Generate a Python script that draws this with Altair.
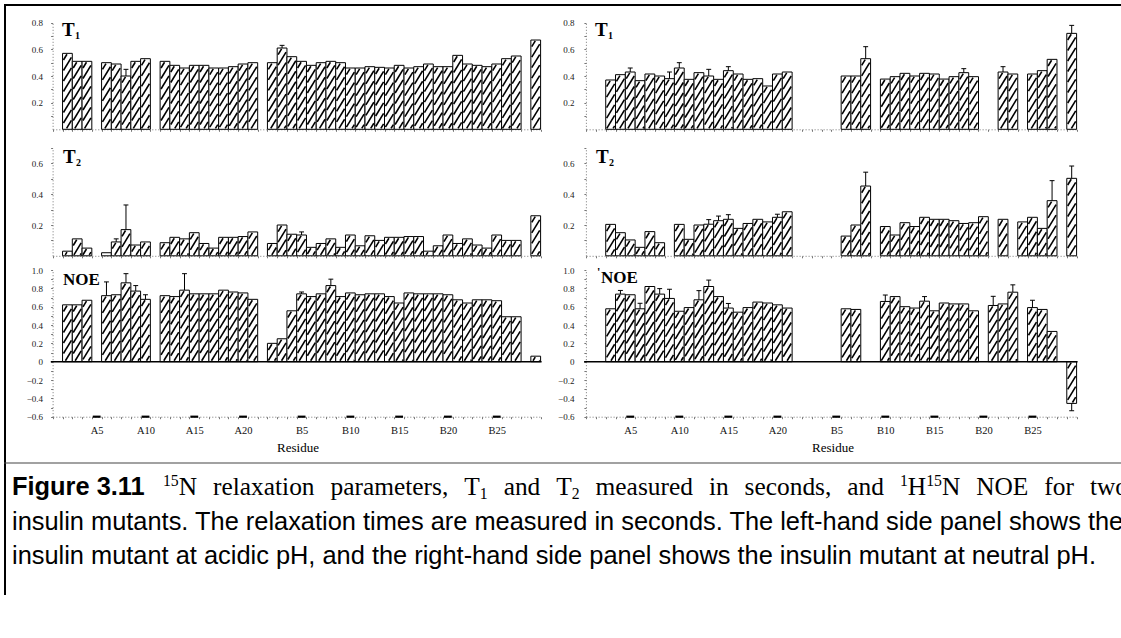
import altair as alt
import pandas as pd

W, H = 1121, 638
SERIF = "Liberation Serif"
SANS = "Liberation Sans"

# Residue axis: insulin A chain (A1-A21) followed by B chain (B1-B29)
residues = [f"A{i}" for i in range(1, 22)] + [f"B{i}" for i in range(1, 30)]
labelled = ["A5", "A10", "A15", "A20", "B5", "B10", "B15", "B20", "B25"]

N = None
# ---- acidic pH mutant -------------------------------------------------------
acid_t1 = [N, .57, .51, .51, N, .50, .49, .40, .51, .53, N, .51, .48, .46, .48, .48, .46, .46, .47, .49, .50,
           N, .50, .61, .545, .51, .48, .50, .51, .50, .46, .46, .47, .465, .46, .48, .46, .47, .49, .47, .47,
           .555, .49, .48, .47, .49, .53, .55, N, .67]
acid_t2 = [N, .03, .11, .05, N, .02, .09, .17, .07, .09, N, .085, .12, .11, .15, .08, .05, .12, .12, .125, .155,
           N, .08, .20, .14, .135, .055, .08, .11, .055, .135, .065, .13, .10, .12, .12, .125, .125, .03, .065, .135,
           .08, .11, .07, .05, .135, .10, .10, N, .26]
acid_noe = [N, .62, .62, .67, N, .72, .73, .86, .77, .68, N, .72, .71, .78, .74, .74, .74, .78, .76, .75, .68,
            N, .20, .25, .555, .74, .71, .74, .83, .71, .75, .73, .74, .74, .71, .64, .75, .74, .74, .74, .73,
            .675, .64, .675, .675, .665, .49, .49, N, .06]
acid_t1_err = {"A8": .05, "B3": .02}
acid_t2_err = {"A8": .16, "A7": .02, "B5": .02}
acid_noe_err = {"A6": .15, "A8": .10, "A9": .06, "A10": .05, "A14": .18, "B8": .07, "B5": .02}

# ---- neutral pH mutant ------------------------------------------------------
neutral_t1 = [N, N, .37, .41, .43, .365, .415, .40, .38, .46, .375, .425, .40, .375, .44, .415, .375, .38, .325,
              .415, .43,
              N, N, N, N, N, .40, .40, .53, N, .377, .395, .42, .40, .42, .415, .377, .395, .425, .395, N, N,
              .43, .415, N, .415, .44, .525, N, .72]
neutral_t2 = [N, N, .204, .15, .103, .055, .157, .085, N, .204, .107, .20, .205, .228, .237, .178, .21, .237, .22,
              .25, .286,
              N, N, N, N, N, .128, .20, .453, N, .19, .135, .215, .19, .25, .237, .237, .228, .21, .215, .254, N,
              .237, N, .22, .25, .178, .358, N, .503]
neutral_noe = [N, N, .577, .737, .73, .577, .82, .737, .69, .55, .59, .675, .82, .71, .585, .54, .59, .65, .64,
               .62, .585,
               N, N, N, N, N, .577, .57, N, N, .657, .71, .60, .585, .66, .555, .64, .63, .63, .555, N, .613, .63,
               .758, N, .59, .57, .33, N, -.455]
neutral_t1_err = {"A5": .03, "A9": .05, "A10": .04, "A13": .05, "A15": .03, "B8": .09, "B18": .03, "B22": .04,
                  "B29": .06}
neutral_t2_err = {"A13": .03, "A14": .03, "A15": .03, "A20": .02, "B8": .09, "B27": .13, "B29": .08}
neutral_noe_err = {"A4": .04, "A6": .06, "A8": .06, "A9": .10, "A12": .10, "A13": .07, "A15": .05, "B10": .07,
                   "B14": .05, "B21": .10, "B23": .08, "B25": .08, "B29": .08}

# ---- panel frames (pixel extents of each column and row) --------------------
COLS = {"acid": (52.8, 540.6), "neutral": (586.1, 1076.6)}
ROWS = {
    "T1": {"domain": (0.0, 0.8), "range": (129.3, 22.7)},
    "T2": {"domain": (0.0, 0.7), "range": (255.8, 148.0)},
    "NOE": {"domain": (-0.6, 1.0), "range": (416.7, 270.0)},
}
NRES = len(residues)
one = pd.DataFrame({"k": [0]})


def xband(col):
    return alt.Scale(domain=residues, range=list(COLS[col]), paddingInner=0, paddingOuter=0)


def xlin(col):
    return alt.Scale(domain=[0, NRES], range=list(COLS[col]))


def yscale(row):
    return alt.Scale(domain=list(ROWS[row]["domain"]), range=list(ROWS[row]["range"]), nice=False, zero=False)


def to_px(row, v):
    lo, hi = ROWS[row]["domain"]
    r0, r1 = ROWS[row]["range"]
    return r0 - (v - lo) * (r0 - r1) / (hi - lo)


def to_val(row, py):
    lo, hi = ROWS[row]["domain"]
    r0, r1 = ROWS[row]["range"]
    return lo + (r0 - py) * (hi - lo) / (r0 - r1)


def y_axis(col, row):
    lo, hi = ROWS[row]["domain"]
    vals = [round(t / 10, 1) for t in range(int(round(lo * 10)), int(round(hi * 10)) + 1)]
    if row != "NOE":
        vals = [v for v in vals if v > 0]
    expr = ("round(datum.value*10) % 2 != 0 ? '' : "
            "(datum.value == 0 ? '0' : format(datum.value, '.1f'))")
    return alt.Axis(orient="left", offset=-(COLS[col][0] - 0.2), values=vals, labelExpr=expr,
                    domainDash=[1, 2], domainColor="#777", domainWidth=1, tickSize=2, tickColor="#777",
                    labelFont=SERIF, labelFontSize=9, labelColor="#222",
                    labelPadding=8 if col == "acid" else 10, grid=False, title=None)


def x_axis(row):
    base = ROWS[row]["range"][0]
    common = dict(orient="bottom", offset=base - H, tickSize=2, tickBand="extent", tickColor="#777",
                  domainDash=[1, 2], domainColor="#777", grid=False, title=None)
    if row != "NOE":
        return alt.Axis(labels=False, **common)
    names = ",".join(f"'{r}'" for r in labelled)
    return alt.Axis(labelExpr=f"indexof([{names}], datum.value) >= 0 ? datum.value : ''",
                    labelFont=SERIF, labelFontSize=10.5, labelColor="#111", labelPadding=7,
                    labelAngle=0, labelOverlap=False, **common)


def hatch(row, col, values, period=10.5, slope=1.65, inset=0.9):
    """Diagonal '/' hatching clipped to each bar, returned in data units."""
    x0, x1 = COLS[col]
    w = (x1 - x0) / NRES
    span = w - 2 * inset
    out = []
    for i, v in enumerate(values):
        if v is None:
            continue
        top = to_px(row, max(v, 0)) + inset
        bot = to_px(row, min(v, 0)) - inset
        if bot - top < 1.5:
            continue
        c = top + period * 0.55
        while c <= bot + slope * span:
            ua = max(0.0, (c - bot) / slope)
            ub = min(span, (c - top) / slope)
            if ub > ua:
                out.append({"x": i + (inset + ua) / w, "x2": i + (inset + ub) / w,
                            "y": to_val(row, c - slope * ua), "y2": to_val(row, c - slope * ub)})
            c += period
    return pd.DataFrame(out)


def panel(col, row, values, errs):
    df = pd.DataFrame({"res": residues, "v": values}).dropna()
    layers = []
    bars = alt.Chart(df).mark_bar(fill="white", stroke="black", strokeWidth=1).encode(
        x=alt.X("res:N", scale=xband(col), axis=x_axis(row)),
        y=alt.Y("v:Q", scale=yscale(row), axis=y_axis(col, row)),
        y2=alt.datum(0),
    )
    layers.append(bars)
    hdf = hatch(row, col, values)
    layers.append(alt.Chart(hdf).mark_rule(color="black", strokeWidth=1.6).encode(
        x=alt.X("x:Q", scale=xlin(col), axis=None), x2="x2:Q",
        y=alt.Y("y:Q", scale=yscale(row), axis=None), y2="y2:Q"))
    erows = []
    for r, e in errs.items():
        i = residues.index(r)
        v = values[i]
        end = v + e if v >= 0 else v - e
        erows.append({"xc": i + 0.5, "xl": i + 0.25, "xr": i + 0.75, "v": v, "end": end})
    edf = pd.DataFrame(erows)
    layers.append(alt.Chart(edf).mark_rule(color="black", strokeWidth=1).encode(
        x=alt.X("xc:Q", scale=xlin(col), axis=None),
        y=alt.Y("v:Q", scale=yscale(row), axis=None), y2="end:Q"))
    layers.append(alt.Chart(edf).mark_rule(color="black", strokeWidth=1).encode(
        x=alt.X("xl:Q", scale=xlin(col), axis=None), x2="xr:Q",
        y=alt.Y("end:Q", scale=yscale(row), axis=None)))
    if row == "NOE":
        x0, x1 = COLS[col]
        layers.append(alt.Chart(one).mark_rule(color="black", strokeWidth=1.4).encode(
            x=alt.value(x0 - 2), x2=alt.value(x1 + 1),
            y=alt.Y(datum=0, scale=yscale(row), axis=None)))
        ddf = pd.DataFrame([{"xl": residues.index(r) + 0.1, "xr": residues.index(r) + 0.9} for r in labelled])
        layers.append(alt.Chart(ddf).mark_rule(color="black", strokeWidth=2.2).encode(
            x=alt.X("xl:Q", scale=xlin(col), axis=None), x2="xr:Q",
            y=alt.Y(datum=-0.6, scale=yscale(row), axis=None)))
    return layers


def text(s, x, y, size, font=SERIF, weight="normal", align="left", baseline="alphabetic", color="black"):
    return alt.Chart(one).mark_text(text=s, font=font, fontSize=size, fontWeight=weight, align=align,
                                    baseline=baseline, color=color).encode(x=alt.value(x), y=alt.value(y))


def line(x, x2, y, y2, width=1.0, color="black"):
    return alt.Chart(one).mark_rule(color=color, strokeWidth=width).encode(
        x=alt.value(x), x2=alt.value(x2), y=alt.value(y), y2=alt.value(y2))


layers = []
for col, series in [("acid", [(acid_t1, acid_t1_err), (acid_t2, acid_t2_err), (acid_noe, acid_noe_err)]),
                    ("neutral", [(neutral_t1, neutral_t1_err), (neutral_t2, neutral_t2_err),
                                 (neutral_noe, neutral_noe_err)])]:
    for row, (vals, errs) in zip(["T1", "T2", "NOE"], series):
        layers += panel(col, row, vals, errs)

# panel captions
for x in (62, 595):
    layers.append(text("T", x, 36, 19, weight="bold"))
    layers.append(text("1", x + 13, 39, 10, weight="bold"))
    layers.append(text("T", x + 1, 163, 19, weight="bold"))
    layers.append(text("2", x + 14, 166, 10, weight="bold"))
layers.append(text("NOE", 63, 285, 17, weight="bold"))
layers.append(text("NOE", 601, 283, 17, weight="bold"))
layers.append(text("'", 597, 276, 12, weight="bold"))
layers.append(text("Residue", 298, 448, 13, align="center", baseline="middle"))
layers.append(text("Residue", 833, 448, 13, align="center", baseline="middle"))

# page frame
layers.append(line(4, W, 5, 5, 2.2))
layers.append(line(5, 5, 5, 595, 2.0))
layers.append(line(4, W, 463, 463, 1.2, "#444"))

# ---- figure legend ------------------------------------------------------------
CAP = 25.4
TIMES_W = dict(zip(" ,.-0123456789", [250, 250, 250, 333] + [500] * 10))
TIMES_W.update(zip("abcdefghijklmnopqrstuvwxyz",
                   [444, 500, 444, 500, 444, 333, 500, 500, 278, 278, 500, 278, 778, 500, 500, 500, 500, 333,
                    389, 278, 500, 500, 722, 500, 500, 444]))
TIMES_W.update({"T": 611, "N": 722, "H": 722, "O": 722, "E": 611})
SCRIPT = 0.62

legend_words = [
    [("15", "sup"), ("N", "n")], [("relaxation", "n")], [("parameters,", "n")], [("T", "n"), ("1", "sub")],
    [("and", "n")], [("T", "n"), ("2", "sub")], [("measured", "n")], [("in", "n")], [("seconds,", "n")],
    [("and", "n")], [("1", "sup"), ("H", "n"), ("15", "sup"), ("N", "n")], [("NOE", "n")], [("for", "n")],
    [("two", "n")],
]


def piece_width(s, kind):
    size = CAP * (SCRIPT if kind != "n" else 1.0)
    return sum(TIMES_W.get(ch, 500) for ch in s) / 1000 * size


# justified first line, running past the right edge of the page
start, stop, base1 = 163.0, 1128.0, 495.0
natural = sum(piece_width(s, k) for w in legend_words for s, k in w)
gap = (stop - start - natural) / (len(legend_words) - 1)
xpos = start
for word in legend_words:
    for s, kind in word:
        size = CAP * (SCRIPT if kind != "n" else 1.0)
        dy = {"n": 0.0, "sup": -0.36 * CAP, "sub": 0.16 * CAP}[kind]
        layers.append(text(s, xpos, base1 + dy, size))
        xpos += piece_width(s, kind)
    xpos += gap

layers.append(text("Figure 3.11", 12, base1, CAP, font=SANS, weight="bold"))
layers.append(text("insulin mutants. The relaxation times are measured in seconds. The left-hand side panel shows the",
                   12, 530, CAP, font=SANS))
layers.append(text("insulin mutant at acidic pH, and the right-hand side panel shows the insulin mutant at neutral pH.",
                   12, 564, CAP, font=SANS))

chart = alt.layer(*layers).resolve_scale(x="independent", y="independent").properties(
    width=W, height=H, autosize=alt.AutoSizeParams(type="none"), padding=0, background="white"
).configure_view(stroke=None)

chart.save("out.html", embed_options={"renderer": "svg", "actions": False})
